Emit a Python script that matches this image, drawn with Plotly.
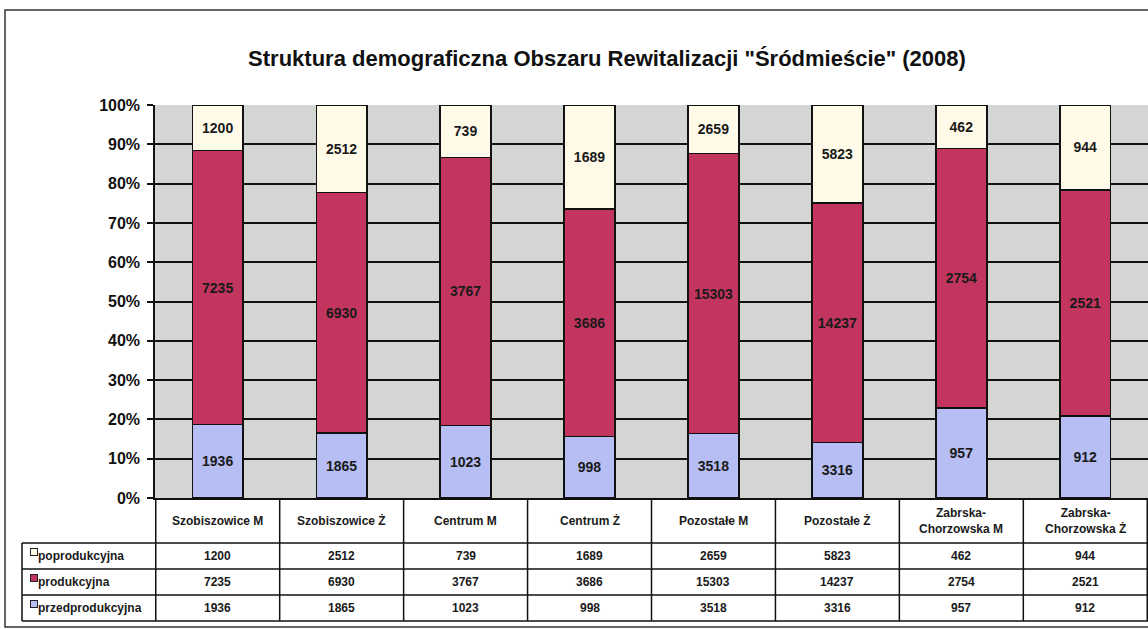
import plotly.graph_objects as go

# --- data ---
categories = [
    "Szobiszowice M",
    "Szobiszowice Ż",
    "Centrum M",
    "Centrum Ż",
    "Pozostałe M",
    "Pozostałe Ż",
    "Zabrska-Chorzowska M",
    "Zabrska-Chorzowska Ż",
]
header_labels = [
    "Szobiszowice M",
    "Szobiszowice Ż",
    "Centrum M",
    "Centrum Ż",
    "Pozostałe M",
    "Pozostałe Ż",
    "Zabrska-<br>Chorzowska M",
    "Zabrska-<br>Chorzowska Ż",
]
series_names = ["poprodukcyjna", "produkcyjna", "przedprodukcyjna"]
poprodukcyjna = [1200, 2512, 739, 1689, 2659, 5823, 462, 944]
produkcyjna = [7235, 6930, 3767, 3686, 15303, 14237, 2754, 2521]
przedprodukcyjna = [1936, 1865, 1023, 998, 3518, 3316, 957, 912]
y_ticks = [0, 10, 20, 30, 40, 50, 60, 70, 80, 90, 100]

title = 'Struktura demograficzna Obszaru Rewitalizacji "Śródmieście" (2008)'

W, H = 1148, 629
FONT = "Liberation Sans, Arial, sans-serif"
INK = "#111111"
colors = {
    "poprodukcyjna": "#fffbe8",
    "produkcyjna": "#c2355f",
    "przedprodukcyjna": "#b6bef4",
}
values = {
    "poprodukcyjna": poprodukcyjna,
    "produkcyjna": produkcyjna,
    "przedprodukcyjna": przedprodukcyjna,
}

# layout geometry (pixels)
PLOT_LEFT, PLOT_TOP, PLOT_BOTTOM = 155, 105, 498
TBL_LEFT, HDR_H, ROW_H = 22, 45, 26


def px_x(p):
    return p / W


def px_y(p):
    return 1 - p / H


fig = go.Figure()

# stacked bars, bottom to top
for name in ["przedprodukcyjna", "produkcyjna", "poprodukcyjna"]:
    fig.add_trace(
        go.Bar(
            x=categories,
            y=values[name],
            name=name,
            text=[str(v) for v in values[name]],
            textposition="inside",
            insidetextanchor="middle",
            textangle=0,
            constraintext="none",
            textfont=dict(family=FONT, size=14, color="#1a1a1a", weight="bold"),
            marker=dict(color=colors[name], line=dict(color=INK, width=1.5)),
            showlegend=False,
        )
    )

# --- data table under the plot, aligned on the category axis ---
hdr_bottom = PLOT_BOTTOM + HDR_H
row_lines = [hdr_bottom + ROW_H * k for k in range(len(series_names) + 1)]
tbl_bottom = row_lines[-1]

shapes = []
annotations = []
line_style = dict(color=INK, width=1.5)

# horizontal rules across the whole table
for yy in row_lines:
    shapes.append(dict(type="line", xref="paper", yref="paper",
                       x0=px_x(TBL_LEFT), x1=1.0, y0=px_y(yy), y1=px_y(yy),
                       line=line_style))
# left edge of the label column
shapes.append(dict(type="line", xref="paper", yref="paper",
                   x0=px_x(TBL_LEFT), x1=px_x(TBL_LEFT),
                   y0=px_y(hdr_bottom), y1=px_y(tbl_bottom), line=line_style))
# column separators between categories
for i in range(len(categories) + 1):
    shapes.append(dict(type="line", xref="x", yref="paper",
                       x0=i - 0.5, x1=i - 0.5,
                       y0=px_y(PLOT_BOTTOM), y1=px_y(tbl_bottom), line=line_style))

# header cells
for cat, lab in zip(categories, header_labels):
    annotations.append(dict(x=cat, xref="x", y=px_y(PLOT_BOTTOM + HDR_H / 2), yref="paper",
                            text="<b>%s</b>" % lab, showarrow=False,
                            xanchor="center", yanchor="middle", align="center",
                            font=dict(family=FONT, size=12, color="#1a1a1a")))

# body cells + row labels with legend keys
for r, name in enumerate(series_names):
    row_mid = hdr_bottom + ROW_H * (r + 0.5)
    for cat, v in zip(categories, values[name]):
        annotations.append(dict(x=cat, xref="x", y=px_y(row_mid), yref="paper",
                                text="<b>%d</b>" % v, showarrow=False,
                                xanchor="center", yanchor="middle",
                                font=dict(family=FONT, size=12, color="#1a1a1a")))
    annotations.append(dict(x=px_x(TBL_LEFT + 14), xref="paper", y=px_y(row_mid), yref="paper",
                            text="<b>%s</b>" % name, showarrow=False,
                            xanchor="left", yanchor="middle",
                            font=dict(family=FONT, size=12, color="#1a1a1a")))
    annotations.append(dict(x=px_x(TBL_LEFT + 8), xref="paper", y=px_y(row_mid), yref="paper",
                            text=" ", showarrow=False, width=6, height=6, borderpad=0,
                            bgcolor=colors[name], bordercolor="#222222", borderwidth=1))

# outer frame
shapes.append(dict(type="rect", xref="paper", yref="paper",
                   x0=px_x(5), x1=1.02, y0=px_y(627), y1=px_y(10),
                   line=dict(color="#333333", width=1.5),
                   fillcolor="rgba(0,0,0,0)", layer="below"))

fig.update_layout(
    width=W,
    height=H,
    margin=dict(l=0, r=0, t=0, b=0),
    paper_bgcolor="white",
    plot_bgcolor="#d4d6d4",
    barmode="stack",
    barnorm="percent",
    bargap=0.59,
    font=dict(family=FONT, color=INK),
    xaxis=dict(
        domain=[px_x(PLOT_LEFT), 1.0],
        showticklabels=False,
        showgrid=False,
        showline=True,
        linecolor=INK,
        linewidth=1.5,
        ticks="",
        fixedrange=True,
    ),
    yaxis=dict(
        domain=[px_y(PLOT_BOTTOM), px_y(PLOT_TOP)],
        range=[0, 100],
        tickvals=y_ticks,
        ticktext=["%d%%" % v for v in y_ticks],
        ticks="outside",
        ticklen=6,
        tickwidth=1.5,
        tickcolor=INK,
        ticklabelstandoff=4,
        tickfont=dict(family=FONT, size=16, color=INK, weight="bold"),
        showgrid=True,
        gridcolor=INK,
        gridwidth=1.5,
        zeroline=False,
        showline=True,
        linecolor=INK,
        linewidth=1.5,
        automargin=False,
        fixedrange=True,
    ),
    title=dict(
        text="<b>%s</b>" % title,
        x=px_x(607),
        y=px_y(58),
        xanchor="center",
        yanchor="middle",
        xref="paper",
        yref="paper",
        font=dict(family=FONT, size=22, color=INK),
    ),
    annotations=annotations,
    shapes=shapes,
)

fig.write_html(
    "out.html",
    config={"displayModeBar": False},
    post_script="document.body.style.margin='0';document.body.style.overflow='hidden';",
)
